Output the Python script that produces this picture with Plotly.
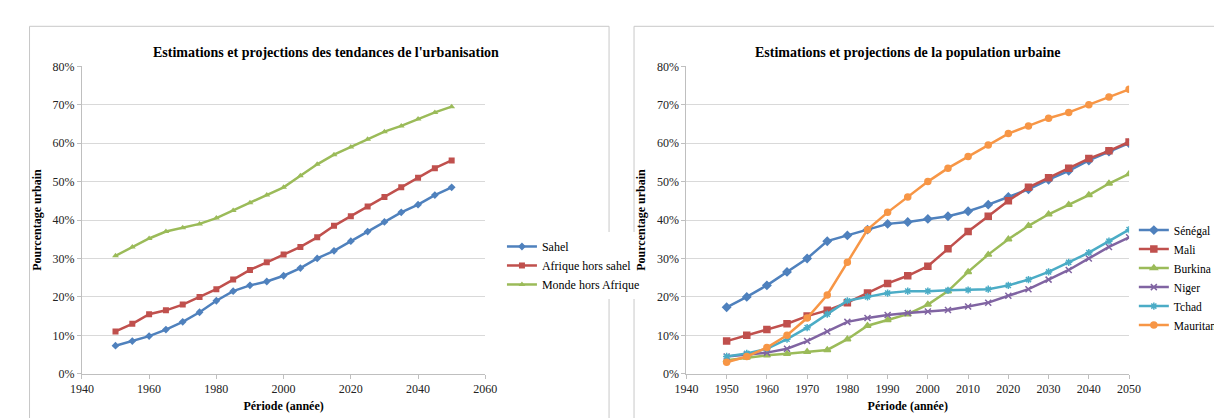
import plotly.graph_objects as go

years = list(range(1950, 2051, 5))

# gauche : tendances de l'urbanisation
sahel = [7.3, 8.5, 9.8, 11.5, 13.5, 16, 19, 21.5, 23, 24, 25.5, 27.5, 30, 32, 34.5, 37, 39.5, 42, 44, 46.5, 48.5]
afrique_hors_sahel = [11, 13, 15.5, 16.5, 18, 20, 22, 24.5, 27, 29, 31, 33, 35.5, 38.5, 41, 43.5, 46, 48.5, 51, 53.5, 55.5]
monde_hors_afrique = [30.7, 33, 35.2, 37, 38, 39, 40.5, 42.5, 44.5, 46.5, 48.5, 51.5, 54.5, 57, 59, 61, 63, 64.5, 66.3, 68, 69.5]

# droite : population urbaine par pays
senegal = [17.3, 20, 23, 26.5, 30, 34.5, 36, 37.5, 39, 39.5, 40.3, 41, 42.3, 44, 46, 48, 50.5, 52.8, 55.5, 57.8, 60]
mali = [8.5, 10, 11.5, 13, 15, 16.5, 18.5, 21, 23.5, 25.5, 28, 32.5, 37, 41, 45, 48.5, 51, 53.5, 56, 58, 60.3]
burkina = [3.5, 4.2, 4.8, 5.2, 5.7, 6.2, 9, 12.5, 14, 15.5, 18, 21.5, 26.5, 31, 35, 38.5, 41.5, 44, 46.5, 49.5, 52]
niger = [4.5, 5, 5.5, 6.5, 8.5, 11, 13.5, 14.5, 15.3, 15.8, 16.2, 16.6, 17.5, 18.5, 20.3, 22, 24.5, 27, 30, 33, 35.5]
tchad = [4.5, 5.3, 6.5, 9, 12, 15.5, 19, 20, 21, 21.5, 21.5, 21.7, 21.8, 22, 23, 24.5, 26.5, 29, 31.5, 34.5, 37.5]
mauritanie = [3, 4.5, 6.8, 10, 14.5, 20.5, 29, 37.5, 42, 46, 50, 53.5, 56.5, 59.5, 62.5, 64.5, 66.5, 68, 70, 72, 74]

FONT = "Liberation Serif"
fig = go.Figure()

left = [("Sahel", sahel, "#4F81BD", "diamond"),
        ("Afrique hors sahel", afrique_hors_sahel, "#C0504D", "square"),
        ("Monde hors Afrique", monde_hors_afrique, "#9BBB59", "triangle-up")]
for name, vals, col, sym in left:
    fig.add_trace(go.Scatter(x=years, y=[v / 100 for v in vals], name=name, mode="lines+markers",
                             line=dict(color=col, width=2.5), marker=dict(symbol=sym, size=6, color=col),
                             xaxis="x", yaxis="y", legend="legend"))

# Sénégal tracé avant Mali pour rester dessous en fin de période
right = [("Sénégal", senegal, "#4F81BD", "diamond"),
         ("Mali", mali, "#C0504D", "square"),
         ("Burkina", burkina, "#9BBB59", "triangle-up"),
         ("Niger", niger, "#8064A2", "x-thin-open"),
         ("Tchad", tchad, "#4BACC6", "asterisk-open"),
         ("Mauritanie", mauritanie, "#F79646", "circle")]
for name, vals, col, sym in right:
    fig.add_trace(go.Scatter(x=years, y=[v / 100 for v in vals], name=name, mode="lines+markers",
                             line=dict(color=col, width=2.5),
                             marker=dict(symbol=sym, size=6, color=col, line=dict(color=col, width=1.5)),
                             xaxis="x2", yaxis="y2", legend="legend2"))

yax = dict(range=[0, 0.8], dtick=0.1, tickformat=".0%", showgrid=True, gridcolor="#d9d9d9",
           zeroline=False, showline=True, linecolor="#bfbfbf", ticks="outside", ticklen=4,
           tickcolor="#bfbfbf", tickfont=dict(size=12, family=FONT, color="#222"),
           title=dict(text="<b>Pourcentage urbain</b>", font=dict(size=12, family=FONT), standoff=8))
xax = dict(dtick=20, showgrid=False, zeroline=False, showline=True, linecolor="#bfbfbf",
           ticks="outside", ticklen=4, tickcolor="#bfbfbf",
           tickfont=dict(size=12, family=FONT, color="#222"),
           title=dict(text="<b>Période (année)</b>", font=dict(size=12, family=FONT), standoff=6))

fig.update_layout(
    width=1222, height=418, margin=dict(l=0, r=0, t=0, b=0),
    paper_bgcolor="white", plot_bgcolor="white",
    font=dict(family=FONT, color="black"),
    xaxis=dict(xax, domain=[0.052, 0.391], range=[1940, 2060]),
    yaxis=dict(yax, domain=[0.112, 0.873], anchor="x"),
    xaxis2=dict(xax, domain=[0.560, 0.932], range=[1940, 2050], dtick=10, anchor="y2"),
    yaxis2=dict(yax, domain=[0.112, 0.873], anchor="x2"),
    legend=dict(x=0.405, y=0.38, yanchor="middle", xanchor="left", font=dict(size=12, family=FONT),
                tracegroupgap=4, itemwidth=30),
    legend2=dict(x=0.936, y=0.35, yanchor="middle", xanchor="left", font=dict(size=11.5, family=FONT),
                 tracegroupgap=4, itemwidth=30),
    annotations=[
        dict(text="<b>Estimations et projections des tendances de l'urbanisation</b>", x=0.257, y=0.93,
             xref="paper", yref="paper", xanchor="center", showarrow=False, font=dict(size=14, family=FONT)),
        dict(text="<b>Estimations et projections de la population urbaine</b>", x=0.746, y=0.93,
             xref="paper", yref="paper", xanchor="center", showarrow=False, font=dict(size=14, family=FONT)),
    ],
    shapes=[
        dict(type="rect", xref="paper", yref="paper", x0=0.008, x1=0.495, y0=-0.01, y1=0.972,
             line=dict(color="#c8c8c8", width=1)),
        dict(type="rect", xref="paper", yref="paper", x0=0.516, x1=1.01, y0=-0.01, y1=0.972,
             line=dict(color="#c8c8c8", width=1)),
    ],
)

fig.write_html("out.html")
